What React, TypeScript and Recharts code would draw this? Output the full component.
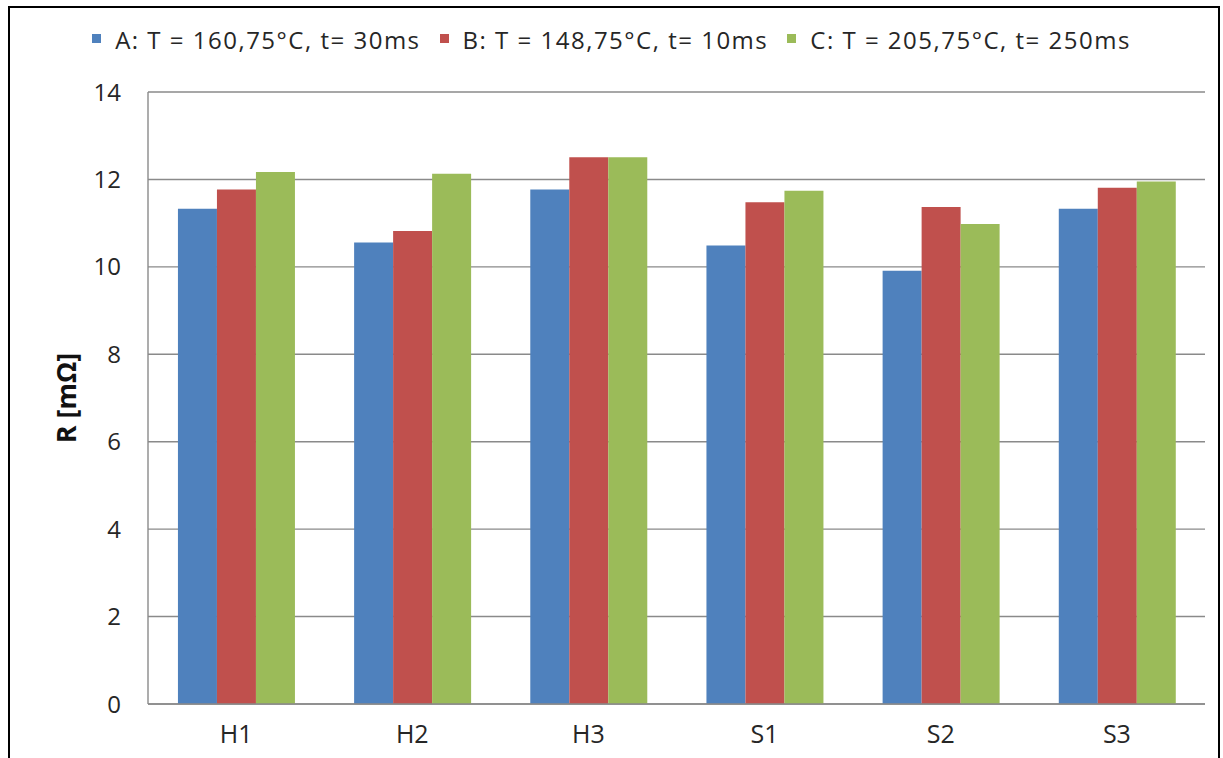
import React from "react";
import { BarChart, Bar, XAxis, YAxis, CartesianGrid } from "recharts";

// Resistance per sample for three process settings
const samples = ["H1", "H2", "H3", "S1", "S2", "S3"];
const seriesA = [11.33, 10.56, 11.77, 10.49, 9.91, 11.33];
const seriesB = [11.77, 10.82, 12.51, 11.48, 11.37, 11.81];
const seriesC = [12.17, 12.13, 12.51, 11.74, 10.98, 11.95];
const seriesNames = [
  "A: T = 160,75°C, t= 30ms",
  "B: T = 148,75°C, t= 10ms",
  "C: T = 205,75°C, t= 250ms",
];
const seriesColors = ["#4F81BD", "#C0504D", "#9BBB59"];
const yTicks = [0, 2, 4, 6, 8, 10, 12, 14];

const data = samples.map((s, i) => ({
  name: s,
  a: seriesA[i],
  b: seriesB[i],
  c: seriesC[i],
}));

const FONT = "'Open Sans', 'DejaVu Sans', sans-serif";
const TEXT = "#262626";
const LINE = "#8a8a8a";

function LegendBlock() {
  return (
    <div
      style={{
        position: "absolute",
        left: 0,
        top: 23,
        width: 1223,
        display: "flex",
        justifyContent: "center",
        alignItems: "center",
        fontFamily: FONT,
        fontSize: 24,
        letterSpacing: 1.5,
        lineHeight: "34px",
        color: TEXT,
        whiteSpace: "nowrap",
      }}
    >
      {seriesNames.map((n, i) => (
        <div key={n} style={{ display: "flex", alignItems: "center", marginRight: i < 2 ? 19 : 0 }}>
          <span
            style={{
              display: "inline-block",
              width: 9,
              height: 9,
              background: seriesColors[i],
              marginRight: 14,
              marginTop: -4,
            }}
          />
          <span>{n}</span>
        </div>
      ))}
    </div>
  );
}

function YLabel(props: any) {
  const vb = props.viewBox || { x: 0, y: 0, width: 0, height: 0 };
  const cx = 65;
  const cy = vb.y + vb.height / 2;
  return (
    <text
      x={cx}
      y={cy}
      transform={`rotate(-90, ${cx}, ${cy})`}
      textAnchor="middle"
      dominantBaseline="central"
      fontFamily={FONT}
      fontWeight="bold"
      fontSize={27}
      fill="#111"
    >
      R [mΩ]
    </text>
  );
}

export default function App() {
  return (
    <div style={{ position: "absolute", left: 0, top: 0, width: 1223, height: 758, background: "#fff", overflow: "hidden" }}>
      <div
        style={{
          position: "absolute",
          left: 8,
          top: 6,
          width: 1212,
          height: 800,
          border: "2px solid #000",
          boxSizing: "border-box",
        }}
      />
      <LegendBlock />
      <div style={{ position: "absolute", left: 0, top: 0 }}>
        <BarChart
          width={1223}
          height={758}
          data={data}
          margin={{ top: 92, right: 18, bottom: 0, left: 48 }}
          barCategoryGap="17%"
          barGap={0}
        >
          <CartesianGrid horizontal vertical={false} stroke={LINE} strokeWidth={1.4} />
          <XAxis
            dataKey="name"
            axisLine={{ stroke: LINE, strokeWidth: 1.4 }}
            tickLine={false}
            tickSize={6}
            tickMargin={15}
            tick={{ fontFamily: FONT, fontSize: 25, fill: TEXT }}
            height={54}
          />
          <YAxis
            width={100}
            domain={[0, 14]}
            ticks={yTicks}
            interval={0}
            axisLine={{ stroke: LINE, strokeWidth: 1.4 }}
            tickLine={false}
            tickSize={8}
            tickMargin={19}
            tick={{ fontFamily: FONT, fontSize: 24, fill: TEXT }}
            label={<YLabel />}
          />
          <Bar dataKey="a" name={seriesNames[0]} fill={seriesColors[0]} isAnimationActive={false} />
          <Bar dataKey="b" name={seriesNames[1]} fill={seriesColors[1]} isAnimationActive={false} />
          <Bar dataKey="c" name={seriesNames[2]} fill={seriesColors[2]} isAnimationActive={false} />
        </BarChart>
      </div>
    </div>
  );
}
